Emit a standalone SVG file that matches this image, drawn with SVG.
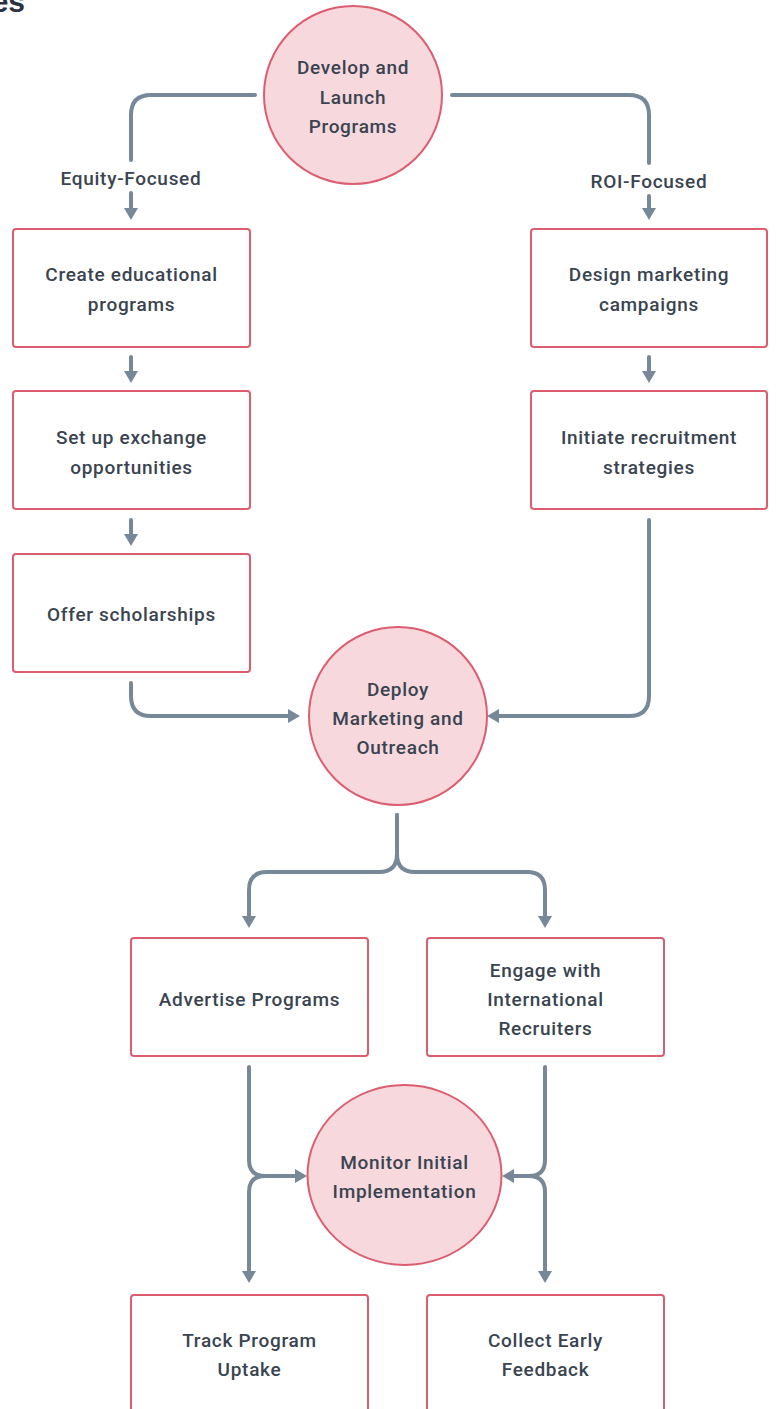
<svg xmlns="http://www.w3.org/2000/svg" width="776" height="1409" viewBox="0 0 776 1409">
<defs>
<marker id="ah" viewBox="0 0 12 14" markerWidth="12" markerHeight="14" refX="6" refY="7" orient="auto" markerUnits="userSpaceOnUse">
<path d="M0,0 L12,7 L0,14 z" fill="#778899"/>
</marker>
<style>
.bg{fill:#ffffff}
.box{fill:#ffffff;stroke:#dd5d70;stroke-width:2}
.circ{fill:#f6d8dd;stroke:#dd5d70;stroke-width:2}
.t{font-family:Roboto,"Noto Sans",sans-serif;font-size:19px;font-weight:500;fill:#3a4450;text-anchor:middle;dominant-baseline:central;letter-spacing:0.7px}
.lbl{font-family:Roboto,"Noto Sans",sans-serif;font-size:19px;font-weight:500;fill:#3a4450;text-anchor:middle;dominant-baseline:central;letter-spacing:0.7px}
.e{fill:none;stroke:#778899;stroke-width:4;stroke-linecap:round;stroke-linejoin:round}
.a{marker-end:url(#ah)}
.title{font-family:"Liberation Sans",Arial,sans-serif;font-size:30px;font-weight:bold;fill:#2b3242}
</style>
</defs>
<rect class="bg" x="0" y="0" width="776" height="1409"/>
<text class="title" x="25" y="12" text-anchor="end">es</text>

<g id="connectors">
<path class="e" d="M255,95 H151 Q131,95 131,115 V160"/>
<path class="e a" d="M131,193 V214"/>
<path class="e" d="M452,95 H629 Q649,95 649,115 V163"/>
<path class="e a" d="M649,196 V214"/>
<path class="e a" d="M131,357 V377"/>
<path class="e a" d="M131,520 V540"/>
<path class="e a" d="M649,357 V377"/>
<path class="e a" d="M131,683 V696 Q131,716 151,716 H294"/>
<path class="e a" d="M649,520 V696 Q649,716 629,716 H493"/>
<path class="e a" d="M397,815 V854 Q397,872 379,872 H267 Q249,872 249,890 V922"/>
<path class="e a" d="M397,815 V854 Q397,872 415,872 H527 Q545,872 545,890 V922"/>
<path class="e a" d="M249,1067 V1160 Q249,1176 265,1176 H301"/>
<path class="e a" d="M296,1176 H265 Q249,1176 249,1192 V1277"/>
<path class="e a" d="M545,1067 V1160 Q545,1176 529,1176 H508"/>
<path class="e a" d="M512,1176 H529 Q545,1176 545,1192 V1277"/>
<text class="lbl" x="131" y="178">Equity-Focused</text>
<text class="lbl" x="649" y="181">ROI-Focused</text>
</g>

<g id="n-develop">
<circle class="circ" cx="353" cy="95" r="89"/>
<text class="t" x="353" y="67">Develop and</text>
<text class="t" x="353" y="97">Launch</text>
<text class="t" x="353" y="126">Programs</text>
</g>
<g id="n-create">
<rect class="box" x="13" y="229" width="237" height="118" rx="3"/>
<text class="t" x="131.5" y="274">Create educational</text>
<text class="t" x="131.5" y="304">programs</text>
</g>
<g id="n-exchange">
<rect class="box" x="13" y="391" width="237" height="118" rx="3"/>
<text class="t" x="131.5" y="437">Set up exchange</text>
<text class="t" x="131.5" y="467">opportunities</text>
</g>
<g id="n-scholar">
<rect class="box" x="13" y="554" width="237" height="118" rx="3"/>
<text class="t" x="131.5" y="614">Offer scholarships</text>
</g>
<g id="n-design">
<rect class="box" x="531" y="229" width="236" height="118" rx="3"/>
<text class="t" x="649" y="274">Design marketing</text>
<text class="t" x="649" y="304">campaigns</text>
</g>
<g id="n-recruit">
<rect class="box" x="531" y="391" width="236" height="118" rx="3"/>
<text class="t" x="649" y="437">Initiate recruitment</text>
<text class="t" x="649" y="467">strategies</text>
</g>
<g id="n-deploy">
<circle class="circ" cx="398" cy="716" r="89"/>
<text class="t" x="398" y="689">Deploy</text>
<text class="t" x="398" y="718">Marketing and</text>
<text class="t" x="398" y="747">Outreach</text>
</g>
<g id="n-advertise">
<rect class="box" x="131" y="938" width="237" height="118" rx="3"/>
<text class="t" x="249.5" y="999">Advertise Programs</text>
</g>
<g id="n-engage">
<rect class="box" x="427" y="938" width="237" height="118" rx="3"/>
<text class="t" x="545.5" y="970">Engage with</text>
<text class="t" x="545.5" y="999">International</text>
<text class="t" x="545.5" y="1028">Recruiters</text>
</g>
<g id="n-monitor">
<ellipse class="circ" cx="404.5" cy="1175" rx="97" ry="90"/>
<text class="t" x="404.5" y="1162">Monitor Initial</text>
<text class="t" x="404.5" y="1191">Implementation</text>
</g>
<g id="n-track">
<rect class="box" x="131" y="1295" width="237" height="118" rx="3"/>
<text class="t" x="249.5" y="1340">Track Program</text>
<text class="t" x="249.5" y="1369">Uptake</text>
</g>
<g id="n-collect">
<rect class="box" x="427" y="1295" width="237" height="118" rx="3"/>
<text class="t" x="545.5" y="1340">Collect Early</text>
<text class="t" x="545.5" y="1369">Feedback</text>
</g>
</svg>
